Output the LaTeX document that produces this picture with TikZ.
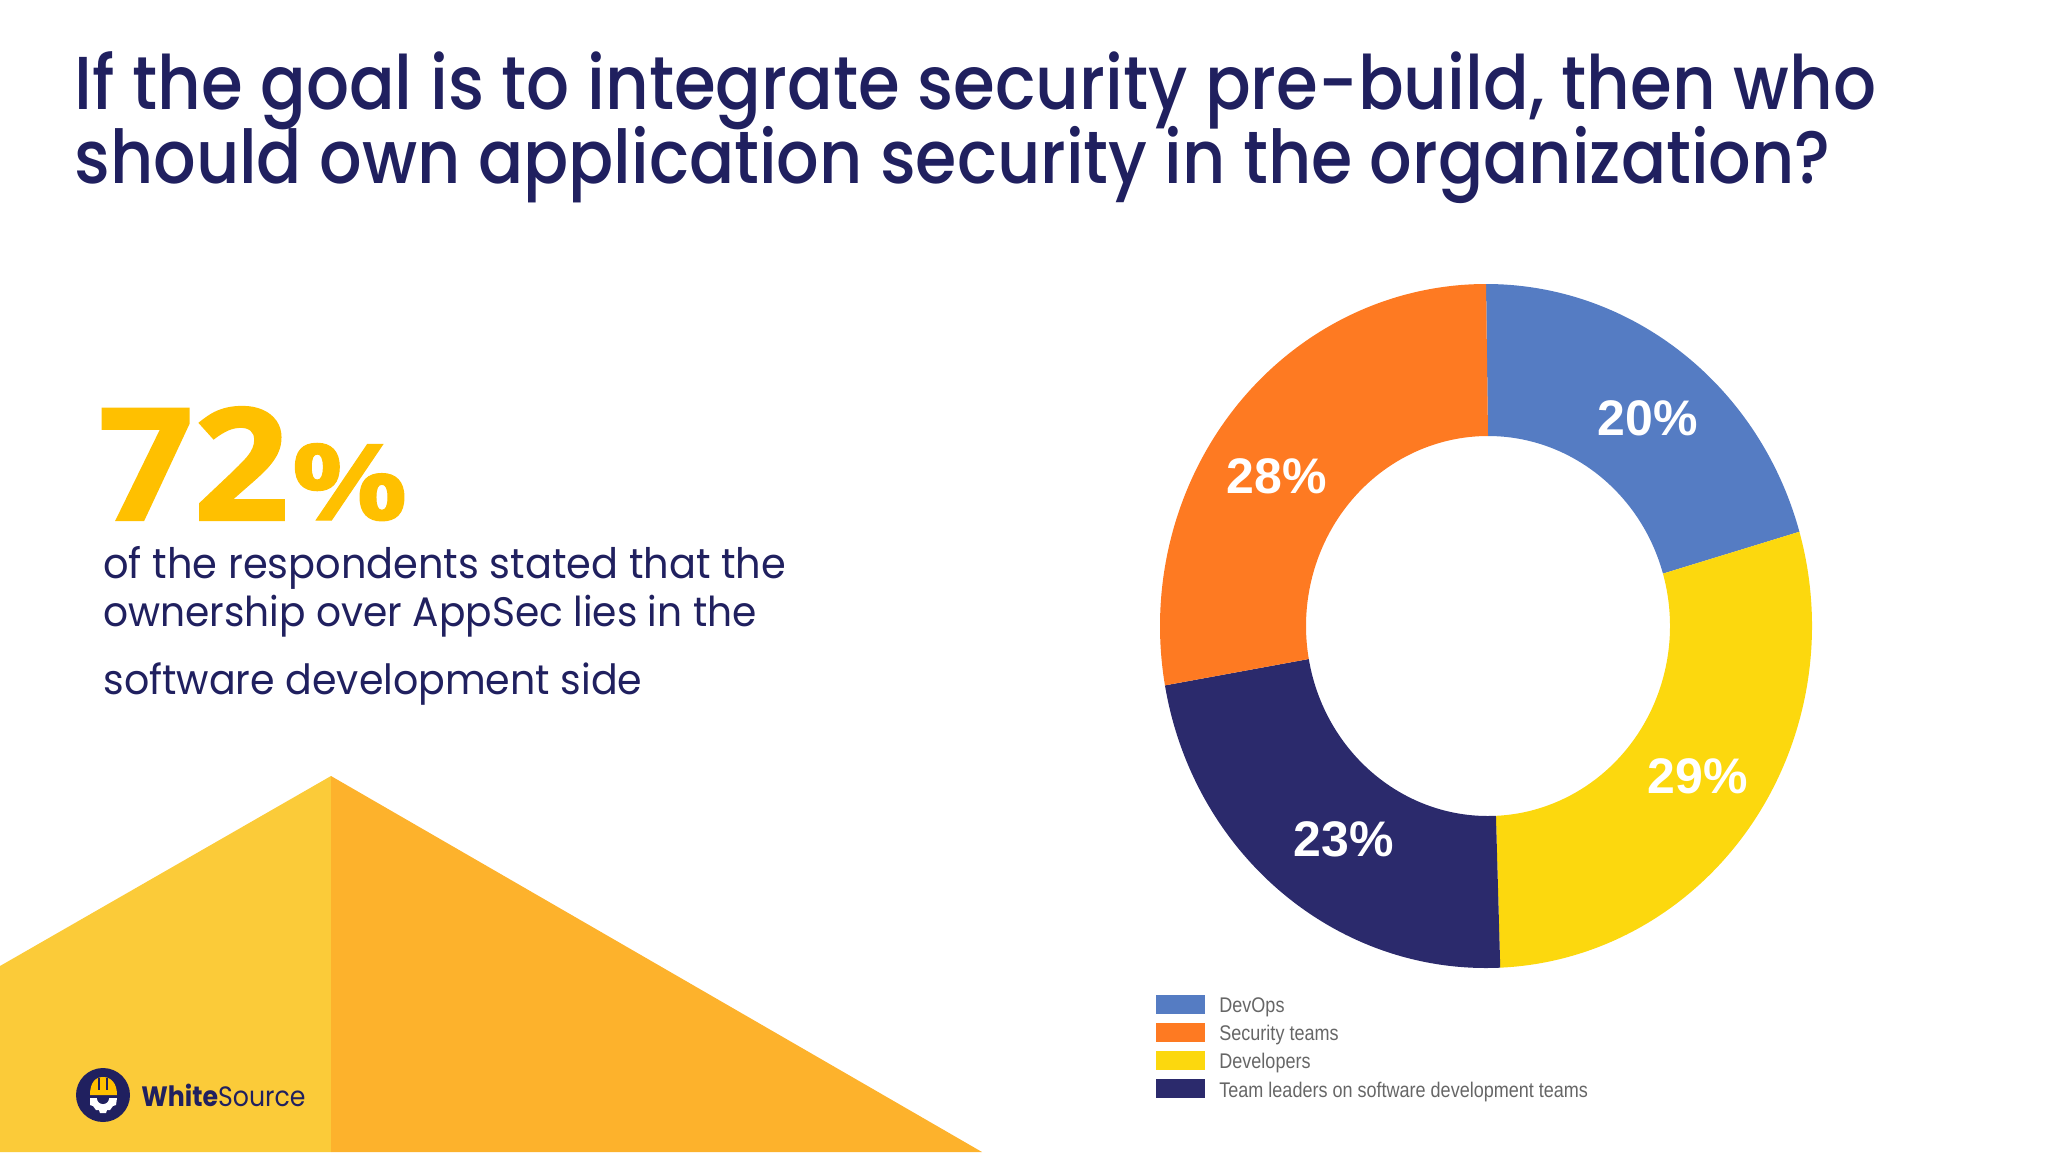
\documentclass[tikz,border=0pt]{standalone}
\usepackage{fontspec}
\setmainfont{Poppins}[FakeStretch=0.95]
\newfontfamily\headfont{Poppins Medium}[FakeStretch=0.9]
\newfontfamily\brandfont{Poppins}[FakeStretch=0.9]
\newfontfamily\bigfont{Open Sans}[FakeBold=1.5,FakeStretch=1.07]
\newfontfamily\signfont{Open Sans}[FakeStretch=1.22,FakeBold=1]
\newfontfamily\piefont{Liberation Sans}
\newfontfamily\keyfont{Liberation Sans}[FakeStretch=0.85]
\definecolor{navy}{HTML}{20205F}
\definecolor{gold}{HTML}{FFC000}
\definecolor{triLight}{HTML}{FBCB39}
\definecolor{triDark}{HTML}{FDB22C}
\definecolor{sliceBlue}{HTML}{557CC3}
\definecolor{sliceOrange}{HTML}{FE7A22}
\definecolor{sliceYellow}{HTML}{FCD80E}
\definecolor{sliceNavy}{HTML}{2B2A6C}
\begin{document}
\begin{tikzpicture}[x=0.5pt,y=-0.5pt,
title/.style ={anchor=base west, inner sep=0, text=navy, align=left,
  font=\headfont\fontsize{37.5}{37.5}\selectfont
},
body/.style ={anchor=base west, inner sep=0, text=navy,
  font=\fontsize{21}{24}\selectfont
},
pct/.style ={text=white, inner sep=0, font=\piefont\bfseries\fontsize{25}{25}\selectfont},
swatch/.style ={rectangle, inner sep=0, minimum width=24.5pt, minimum height=9.5pt, anchor=north west},
entry/.style ={anchor=west, inner sep=0, text=black!60, font=\keyfont\fontsize{10.6}{12}\selectfont}
]
\useasboundingbox (0,0) rectangle (2048,1152);
% background triangle
\fill[triLight] (0,966) -- (331,776) -- (331,1152) -- (0,1152) -- cycle;
\fill[triDark] (331,776) -- (982,1152) -- (331,1152) -- cycle;
% title
\node (head1) at (74,109) [title] {If the goal is to integrate security pre-build, then who};
\node (head2) at (74,183) [title, font=\headfont\fontsize{37.1}{37.1}\selectfont] {should own application security in the organization?};
% big number
\node (num) at (98,520) [anchor=base west, inner sep=0, text=gold, font=\bigfont\bfseries\fontsize{78}{78}\selectfont] {72};
\node (sign) at (291,520) [anchor=base west, inner sep=0, text=gold, font=\signfont\bfseries\fontsize{53}{53}\selectfont] {\%};
\node (line1) at (103,578) [body] {of the respondents stated that the};
\node (line2) at (103,626) [body, font=\fontsize{20.6}{24}\selectfont] {ownership over AppSec lies in the};
\node (line3) at (103,694) [body, font=\fontsize{20.8}{24}\selectfont] {software development side};
% donut
\begin{scope}[shift={(1486,626)}]
\foreach \a/\b/\c in {90/16/sliceBlue, 16/-87.5/sliceYellow, -87.5/-170/sliceNavy, -170/-270/sliceOrange}
  \fill[\c] (\a:163pt and 171pt) arc[start angle=\a, end angle=\b, x radius=163pt, y radius=171pt]
    -- ([xshift=1pt]\b:91pt and 95pt) arc[start angle=\b, end angle=\a, x radius=91pt, y radius=95pt] -- cycle;
\end{scope}
\node (p20) at (1648,418) [pct] {20\%};
\node (p28) at (1277,476) [pct] {28\%};
\node (p29) at (1698,776) [pct] {29\%};
\node (p23) at (1344,839) [pct] {23\%};
% legend
\node (s1) at (1156,995) [swatch, fill=sliceBlue] {};
\node (s2) at (1156,1023) [swatch, fill=sliceOrange] {};
\node (s3) at (1156,1051) [swatch, fill=sliceYellow] {};
\node (s4) at (1156,1079) [swatch, fill=sliceNavy] {};
\node (e1) at (1219,1007) [entry] {DevOps};
\node (e2) at (1219,1035) [entry] {Security teams};
\node (e3) at (1219,1063) [entry] {Developers};
\node (e4) at (1219,1092) [entry] {Team leaders on software development teams};
% logo
\fill[navy] (103,1095) circle[radius=13.5pt];
\fill[gold] (90,1095) .. controls (90,1083) and (95,1077) .. (103,1077) .. controls (111,1077) and (117,1083) .. (117,1095) -- cycle;
\draw[navy, line width=0.6pt] (99,1078) -- (99,1090) (107,1078) -- (107,1090);
\fill[white] (90,1098) -- (117,1098) -- (116,1105) -- (113,1106) -- (110,1110) -- (107,1110) -- (106,1113) -- (100,1113) -- (99,1110) -- (96,1110) -- (93,1106) -- (90,1105) -- cycle;
\fill[navy] (97,1098) arc[start angle=180, end angle=360, radius=3pt] -- cycle;
\node (brand) at (141,1106) [anchor=base west, inner sep=0, text=navy, font=\brandfont\fontsize{14}{14}\selectfont] {\textbf{White}Source};
\end{tikzpicture}
\end{document}
